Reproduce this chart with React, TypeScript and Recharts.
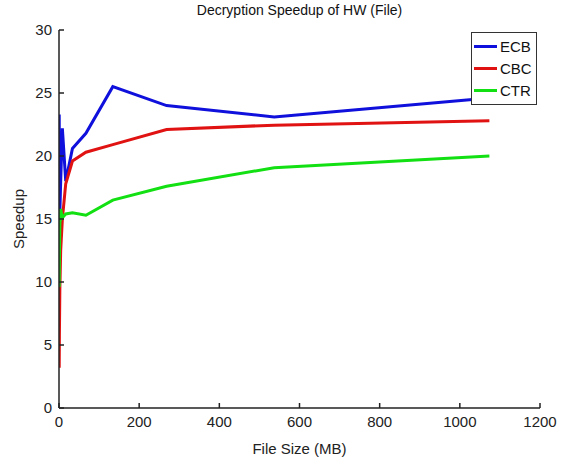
import { LineChart, Line, XAxis, YAxis, Legend } from 'recharts';

// file sizes in MB (doubling, 0.5 MB .. 1 GB)
const fileSizes = [0.52, 1.05, 2.1, 4.19, 8.39, 16.78, 33.55, 67.11, 134.22, 268.44, 536.87, 1073.74];
const ecbSpeedup = [23.3, 19.0, 15.5, 18.0, 22.2, 18.0, 20.6, 21.8, 25.5, 24.0, 23.1, 24.6];
const cbcSpeedup = [3.2, 6.0, 9.4, 12.5, 15.0, 17.8, 19.6, 20.3, 20.9, 22.1, 22.45, 22.8];
const ctrSpeedup = [9.6, 12.0, 14.5, 15.8, 15.1, 15.4, 15.5, 15.3, 16.5, 17.6, 19.07, 20.0];

const xTicks = [0, 200, 400, 600, 800, 1000, 1200];
const yTicks = [0, 5, 10, 15, 20, 25, 30];

const series = [
  { key: 'ecb', name: 'ECB', color: '#1010dc' },
  { key: 'cbc', name: 'CBC', color: '#e01212' },
  { key: 'ctr', name: 'CTR', color: '#12e012' },
];

const data = fileSizes.map((size, i) => ({
  size,
  ecb: ecbSpeedup[i],
  cbc: cbcSpeedup[i],
  ctr: ctrSpeedup[i],
}));

const FONT = '"Liberation Sans", Arial, Helvetica, sans-serif';
const AXIS = '#222';

function LegendBox() {
  return (
    <div
      style={{
        border: '1px solid #333',
        background: '#fff',
        width: 62,
        padding: '2px 0 3px 2px',
        fontFamily: FONT,
        fontSize: 15,
        color: '#111',
      }}
    >
      {series.map((s) => (
        <div key={s.key} style={{ display: 'flex', alignItems: 'center', height: 22 }}>
          <span style={{ width: 23, height: 3, background: s.color, display: 'inline-block', marginRight: 3 }} />
          <span>{s.name}</span>
        </div>
      ))}
    </div>
  );
}

export default function App() {
  return (
    <div style={{ position: 'absolute', left: 0, top: 0, width: 569, height: 463, background: '#fff' }}>
      <div
        style={{
          position: 'absolute',
          left: 59,
          width: 481,
          top: 2,
          textAlign: 'center',
          fontFamily: FONT,
          fontSize: 14,
          color: '#111',
        }}
      >
        Decryption Speedup of HW (File)
      </div>
      <LineChart
        width={569}
        height={463}
        data={data}
        margin={{ top: 30, right: 29, left: 0, bottom: 0 }}
      >
        <XAxis
          dataKey="size"
          type="number"
          domain={[0, 1200]}
          ticks={xTicks}
          allowDataOverflow
          height={55}
          stroke={AXIS}
          strokeWidth={1.5}
          tickSize={-5}
          tickMargin={13}
          tick={{ fill: '#222', fontSize: 15, fontFamily: FONT }}
          label={{
            value: 'File Size (MB)',
            position: 'insideBottom',
            offset: 9,
            fill: '#222',
            fontSize: 15,
            fontFamily: FONT,
          }}
        />
        <XAxis
          xAxisId="top"
          orientation="top"
          dataKey="size"
          type="number"
          domain={[0, 1200]}
          ticks={xTicks}
          height={0}
          stroke={AXIS}
          strokeWidth={1.5}
          tickSize={-5}
          tick={false}
        />
        <YAxis
          type="number"
          domain={[0, 30]}
          ticks={yTicks}
          width={59}
          stroke={AXIS}
          strokeWidth={1.5}
          tickSize={-5}
          tickMargin={12}
          tick={{ fill: '#222', fontSize: 15, fontFamily: FONT }}
          label={{
            value: 'Speedup',
            angle: -90,
            position: 'insideLeft',
            offset: 19,
            style: { textAnchor: 'middle' },
            fill: '#222',
            fontSize: 15,
            fontFamily: FONT,
          }}
        />
        <YAxis
          yAxisId="right"
          orientation="right"
          type="number"
          domain={[0, 30]}
          ticks={yTicks}
          width={0}
          stroke={AXIS}
          strokeWidth={1.5}
          tickSize={-5}
          tick={false}
        />
        <Legend
          layout="vertical"
          verticalAlign="middle"
          align="center"
          wrapperStyle={{ position: 'absolute', left: 471, top: 32, width: 'auto' }}
          content={() => <LegendBox />}
        />
        {series.map((s) => (
          <Line
            key={s.key}
            type="linear"
            dataKey={s.key}
            name={s.name}
            stroke={s.color}
            strokeWidth={3}
            dot={false}
            isAnimationActive={false}
          />
        ))}
      </LineChart>
    </div>
  );
}
